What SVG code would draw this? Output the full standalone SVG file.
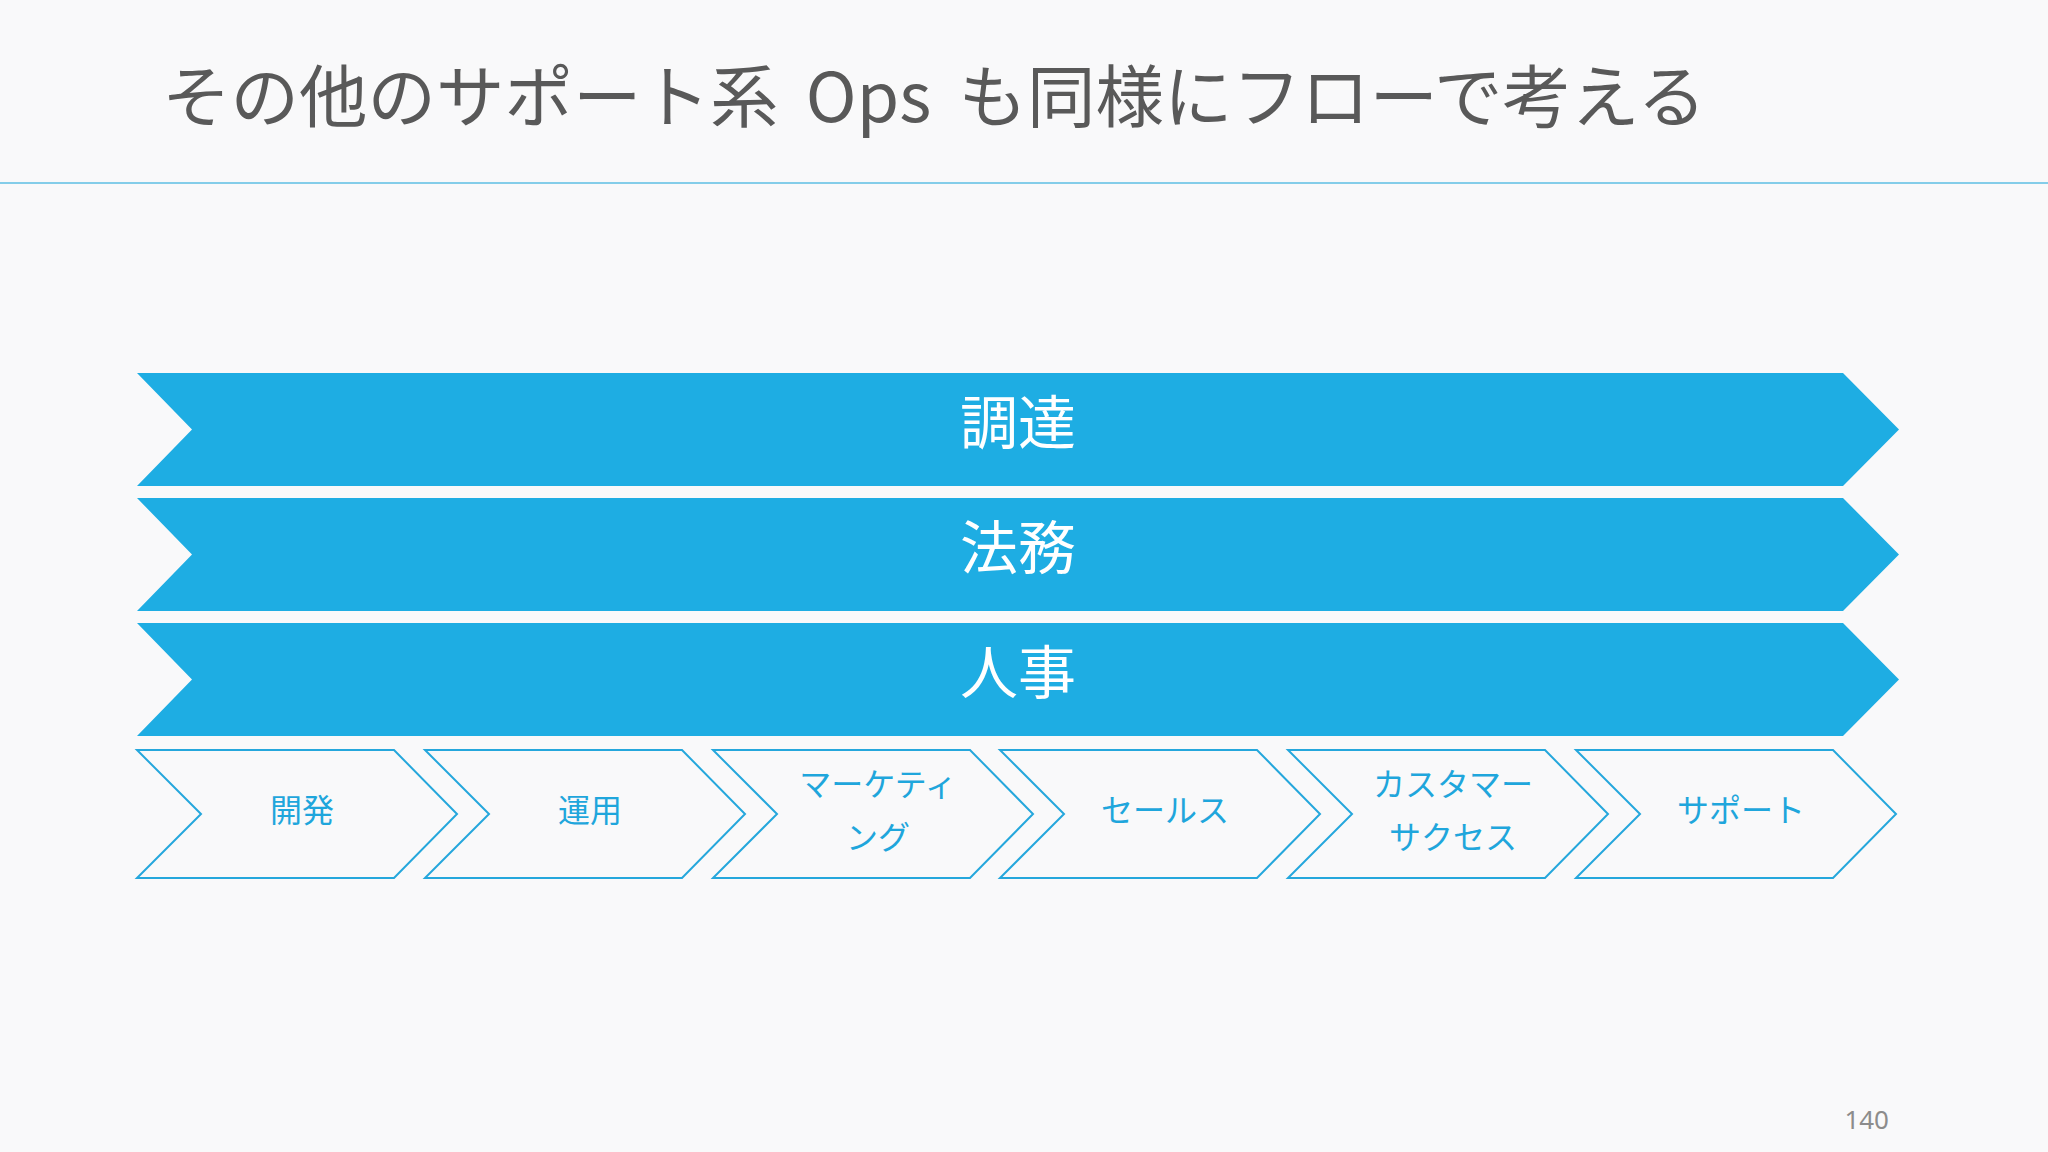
<svg xmlns="http://www.w3.org/2000/svg" width="2048" height="1152" viewBox="0 0 2048 1152">
  <style>
    .title { font-family: "Noto Sans CJK JP", "Noto Sans", sans-serif; font-size: 68.5px; fill: #595959; word-spacing: 12px; }
    .band { fill: #1eade3; }
    .bandText { font-family: "Noto Sans CJK JP", sans-serif; font-size: 58px; fill: #ffffff; text-anchor: middle; dominant-baseline: central; }
    .chev { fill: #f9f9fa; stroke: #25a7dc; stroke-width: 2; }
    .chevText { font-family: "Noto Sans CJK JP", sans-serif; font-size: 32px; fill: #1fa6dc; text-anchor: middle; dominant-baseline: central; }
    .pageNo { font-family: "Noto Sans", "Liberation Sans", sans-serif; font-size: 26px; fill: #8c8c8c; text-anchor: end; }
  </style>
  <rect x="0" y="0" width="2048" height="1152" fill="#f9f9fa"/>
  <g id="header">
    <text class="title" x="162" y="122">その他のサポート系 Ops も同様にフローで考える</text>
    <line x1="0" y1="183" x2="2048" y2="183" stroke="#84cde9" stroke-width="2"/>
  </g>

  <g id="band-chotatsu">
    <path class="band" d="M137,373 H1843 L1899,429.5 L1843,486 H137 L192,429.5 Z"/>
    <text class="bandText" x="1018" y="419">調達</text>
  </g>
  <g id="band-houmu">
    <path class="band" d="M137,498 H1843 L1899,554.5 L1843,611 H137 L192,554.5 Z"/>
    <text class="bandText" x="1018" y="544">法務</text>
  </g>
  <g id="band-jinji">
    <path class="band" d="M137,623 H1843 L1899,679.5 L1843,736 H137 L192,679.5 Z"/>
    <text class="bandText" x="1018" y="669">人事</text>
  </g>

  <g id="step-kaihatsu" transform="translate(137,0)">
    <path class="chev" d="M0,750 H257 L320,814 L257,878 H0 L64,814 Z"/>
    <text class="chevText" x="165" y="808">開発</text>
  </g>
  <g id="step-unyou" transform="translate(425,0)">
    <path class="chev" d="M0,750 H257 L320,814 L257,878 H0 L64,814 Z"/>
    <text class="chevText" x="165" y="808">運用</text>
  </g>
  <g id="step-marketing" transform="translate(713,0)">
    <path class="chev" d="M0,750 H257 L320,814 L257,878 H0 L64,814 Z"/>
    <text class="chevText" x="165" y="782">マーケティ</text>
    <text class="chevText" x="165" y="835">ング</text>
  </g>
  <g id="step-sales" transform="translate(1000,0)">
    <path class="chev" d="M0,750 H257 L320,814 L257,878 H0 L64,814 Z"/>
    <text class="chevText" x="165" y="808">セールス</text>
  </g>
  <g id="step-cs" transform="translate(1288,0)">
    <path class="chev" d="M0,750 H257 L320,814 L257,878 H0 L64,814 Z"/>
    <text class="chevText" x="165" y="782">カスタマー</text>
    <text class="chevText" x="165" y="835">サクセス</text>
  </g>
  <g id="step-support" transform="translate(1576,0)">
    <path class="chev" d="M0,750 H257 L320,814 L257,878 H0 L64,814 Z"/>
    <text class="chevText" x="165" y="808">サポート</text>
  </g>

  <g id="connectors"></g>

  <text class="pageNo" x="1889" y="1129">140</text>
</svg>
